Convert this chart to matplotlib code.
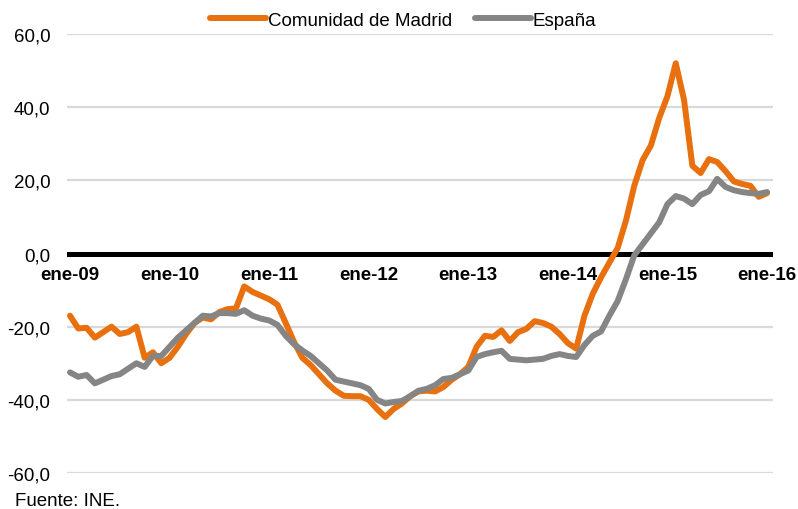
import numpy as np
import matplotlib
matplotlib.use("Agg")
import matplotlib.pyplot as plt

plt.rcParams['font.family'] = ['Liberation Sans', 'DejaVu Sans']

# Serie mensual ene-09 .. ene-16 (variación interanual, %)
madrid = [
    -17.0, -20.5, -20.3, -23.0, -21.5, -20.0, -22.0, -21.5, -20.0, -28.5, -27.0, -30.0,
    -28.5, -25.5, -22.0, -19.0, -17.5, -18.0, -16.0, -15.2, -15.0, -9.0, -10.5, -11.5,
    -12.5, -14.0, -19.0, -24.2, -28.5, -30.5, -33.0, -35.5, -37.5, -38.9, -39.0, -39.0,
    -40.0, -42.5, -44.7, -42.5, -41.0, -39.0, -37.7, -37.5, -37.7, -36.5, -34.5, -33.0,
    -31.0, -25.5, -22.5, -22.8, -21.0, -23.9, -21.5, -20.6, -18.5, -19.0, -20.0, -22.0,
    -24.5, -26.0, -17.0, -11.0, -6.5, -2.5, 1.5, 9.0, 18.5, 25.5, 29.5, 37.0,
    43.0, 52.0, 42.0, 24.0, 22.0, 25.8, 25.0, 22.5, 19.7, 19.0, 18.5, 15.5,
    16.5,
]
espana = [
    -32.5, -33.7, -33.2, -35.5, -34.5, -33.5, -33.0, -31.5, -30.0, -31.0, -28.0, -28.0,
    -25.5, -23.0, -21.0, -19.0, -17.0, -17.2, -16.3, -16.3, -16.5, -15.5, -17.0, -17.8,
    -18.3, -19.5, -22.5, -24.8, -26.5, -28.0, -30.0, -32.0, -34.5, -35.0, -35.5, -36.0,
    -37.0, -40.0, -41.0, -40.6, -40.3, -39.0, -37.5, -37.0, -36.0, -34.3, -34.0, -33.0,
    -32.0, -28.3, -27.5, -27.0, -26.6, -28.8, -29.0, -29.2, -29.0, -28.8, -28.0, -27.5,
    -28.0, -28.3, -25.0, -22.5, -21.3, -17.0, -13.0, -7.0, -0.5, 2.5, 5.5, 8.5,
    13.5, 15.7, 15.0, 13.5, 16.0, 17.0, 20.4, 18.2, 17.3, 16.8, 16.5, 16.3,
    16.8,
]
etiquetas = ['ene-09', 'ene-10', 'ene-11', 'ene-12', 'ene-13', 'ene-14', 'ene-15', 'ene-16']
yticks = [-60, -40, -20, 0, 20, 40, 60]

naranja = '#E8700E'
gris = '#858585'

fig = plt.figure(figsize=(7.98, 5.10), dpi=100)
ax = fig.add_axes([67 / 798, 1 - 474 / 510, (773 - 67) / 798, (474 - 35) / 510])

x = np.arange(len(madrid))
ax.plot(x, madrid, color=naranja, lw=4.3, solid_capstyle='round',
        solid_joinstyle='round', label='Comunidad de Madrid', zorder=3)
ax.plot(x, espana, color=gris, lw=4.3, solid_capstyle='round',
        solid_joinstyle='round', label='España', zorder=4)

ax.set_xlim(-0.36, 84.72)
ax.set_ylim(-60, 60)

# rejilla y línea del cero
for v in yticks:
    if v != 0:
        ax.axhline(v, color='#D9D9D9', lw=1.6, zorder=1)
ax.axhline(0, color='black', lw=3.6, zorder=2)

for s in ['top', 'right', 'left']:
    ax.spines[s].set_visible(False)
ax.spines['bottom'].set_position(('data', 0))
ax.spines['bottom'].set_visible(False)

ax.set_xticks(np.arange(len(etiquetas)) * 12)
ax.set_xticklabels(etiquetas, fontsize=13.5, fontweight='bold')
ax.set_yticks(yticks)
ax.set_yticklabels([f'{v:.1f}'.replace('.', ',') for v in yticks], fontsize=13.5)
ax.tick_params(axis='x', length=0, pad=9)
ax.tick_params(axis='y', length=0, pad=12)

fig.legend(loc='center', bbox_to_anchor=(403 / 798, 1 - 21 / 510), ncol=2, frameon=False,
           fontsize=13.5, handlelength=3.0, handletextpad=0.1, columnspacing=1.2)

fig.text(15 / 798, 1 - 502 / 510, 'Fuente: INE.', fontsize=13.5, va='center', ha='left')

fig.savefig('out.png', dpi=100)
